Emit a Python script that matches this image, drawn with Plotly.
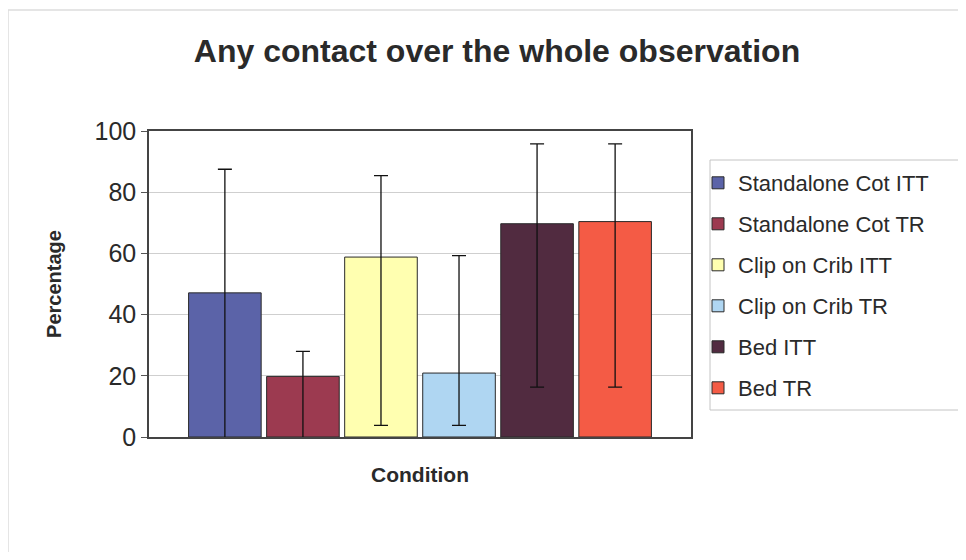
import plotly.graph_objects as go

series_names = ["Standalone Cot ITT", "Standalone Cot TR", "Clip on Crib ITT",
                "Clip on Crib TR", "Bed ITT", "Bed TR"]
values = [47.1, 19.8, 58.8, 20.9, 69.7, 70.4]
err_plus = [40.4, 8.2, 26.6, 38.4, 26.1, 25.4]
err_minus = [55.0, 30.0, 55.0, 17.1, 53.4, 54.1]
colors = ["#5B63A8", "#9C3A50", "#FFFFB0", "#AFD6F2", "#512B40", "#F45B45"]
category = ["Condition"]

OFF = 8  # page body margin
W, H = 966 - OFF, 560 - 2 * OFF
L, R, T, B = 149 - OFF, 691 - OFF, 131 - OFF, 437 - OFF

fig = go.Figure()
for i, name in enumerate(series_names):
    fig.add_trace(go.Bar(
        x=category, y=[values[i]], name=name,
        marker=dict(color=colors[i], line=dict(color="#2a2a2a", width=1)),
        error_y=dict(type="data", symmetric=False, array=[err_plus[i]],
                     arrayminus=[err_minus[i]], color="#111111", thickness=1.3, width=7),
        legendgroup=name,
    ))

pw, ph = R - L, B - T
def px(x):  # screen x -> paper
    return (x - OFF - L) / pw
def py(y):  # screen y -> paper
    return (B - (y - OFF)) / ph

fig.update_layout(
    width=W, height=H,
    margin=dict(l=L, r=W - R, t=T, b=H - B),
    paper_bgcolor="white", plot_bgcolor="white",
    barmode="group", bargap=0.136, bargroupgap=0.07,
    font=dict(family="Liberation Sans, Arial, sans-serif", color="#222222"),
    title=dict(text="<b>Any contact over the whole observation</b>",
               x=px(497), xref="paper", xanchor="center", y=1 - (51 - OFF) / H, yanchor="middle",
               font=dict(size=32, color="#2a2a2a")),
    xaxis=dict(showticklabels=False, showgrid=False, ticks="",
               showline=True, linecolor="#444444", linewidth=1.5, mirror=True,
               title=dict(text="<b>Condition</b>", font=dict(size=21, color="#2a2a2a"), standoff=30)),
    yaxis=dict(range=[0, 100], dtick=20, showgrid=True, gridcolor="#cfcfcf", gridwidth=1,
               ticks="outside", ticklen=6, tickcolor="#555555",
               tickfont=dict(size=25, color="#2a2a2a"),
               showline=True, linecolor="#444444", linewidth=1.5, mirror=True,
               title=dict(text="<b>Percentage</b>", font=dict(size=20, color="#2a2a2a"), standoff=28)),
    legend=dict(x=px(698), y=py(162), xanchor="left", yanchor="top",
                borderwidth=0, bgcolor="rgba(0,0,0,0)",
                font=dict(size=22, color="#2a2a2a"),
                traceorder="grouped", tracegroupgap=9.4, itemwidth=30),
    showlegend=True,
    shapes=[
        dict(type="rect", xref="paper", yref="paper",
             x0=px(8), x1=px(1100), y0=py(553), y1=py(10),
             line=dict(color="#dddddd", width=1.5), layer="below"),
        dict(type="rect", xref="paper", yref="paper",
             x0=px(710), x1=px(1100), y0=py(410), y1=py(160),
             line=dict(color="#c4c4c4", width=1), layer="below"),
    ],
)

fig.write_html("out.html")
